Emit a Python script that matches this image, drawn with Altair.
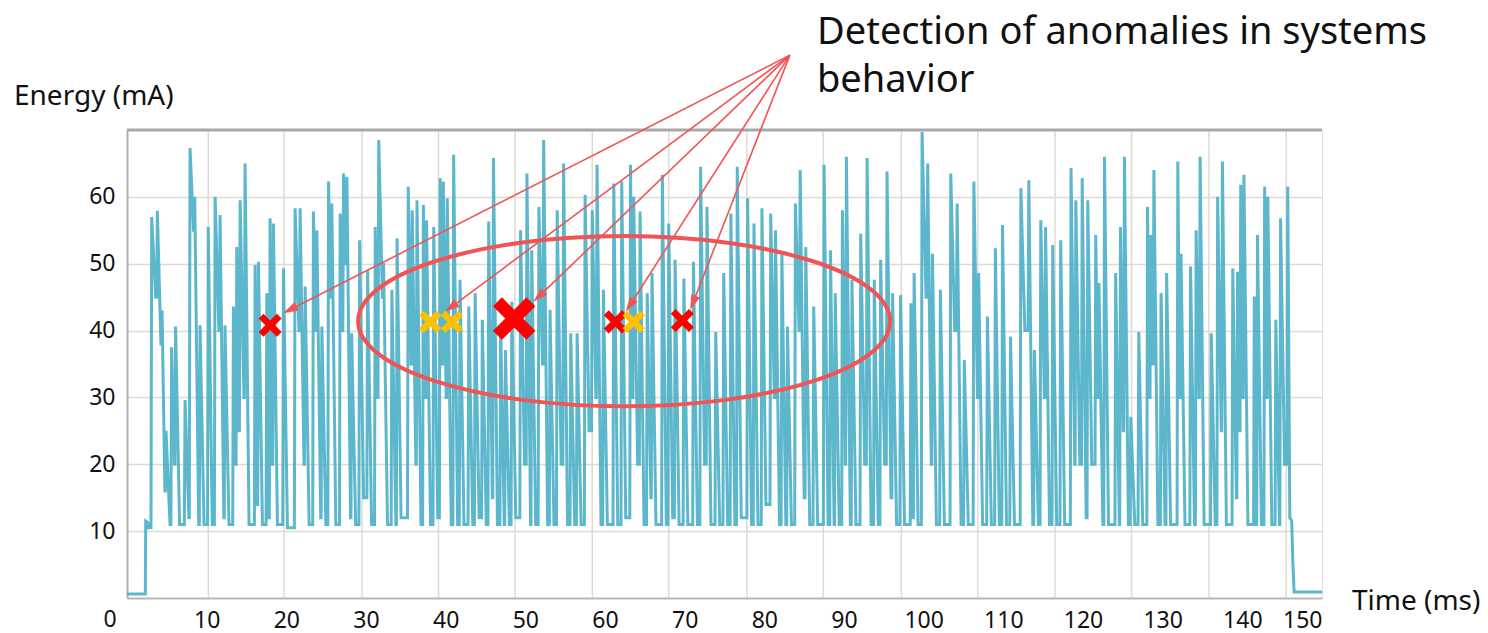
import math
import altair as alt
import pandas as pd

# ---------------- plot geometry ----------------
W, H = 1195, 468
T_MAX, V_MAX = 150, 70

# ---------------- signal data ----------------
lead_t = [0.0, 2.3, 2.35, 2.6, 2.7, 3.0]
lead_v = [0.6, 0.6, 11.5, 11.3, 10.5, 10.5]

spike_t = [3.1, 3.81, 4.4, 4.9, 5.6, 6.1, 7.29, 7.91, 8.5, 9.17, 10.2, 11.06, 11.68, 12.3,
           13.36, 13.78, 14.2, 14.82, 16.08, 16.5, 17.55, 17.96, 18.38, 19.64, 21.1, 21.73,
           22.36, 23.4, 23.83, 24.46, 25.3, 25.71, 26.76, 27.18, 27.6, 28.2, 29.2, 30.2,
           31.16, 31.6, 32.2, 33.25, 33.9, 35.3, 35.8, 36.4, 37.2, 37.6, 38.5, 39.3, 39.7,
           40.2, 41.0, 41.8, 42.9, 43.7, 44.6, 45.4, 46.0, 46.9, 47.5, 48.3, 49.4, 50.2,
           50.8, 51.7, 52.3, 53.1, 54.0, 54.8, 55.7, 56.5, 57.5, 58.4, 59.0, 59.8, 61.1,
           62.1, 63.2, 63.6, 64.4, 65.3, 65.9, 67.2, 68.0, 68.8, 69.9, 71.1, 72.0, 72.8,
           73.9, 74.9, 75.8, 76.6, 77.9, 78.7, 79.7, 80.8, 81.4, 82.2, 82.9, 83.9, 84.5,
           85.2, 86.2, 87.5, 88.3, 88.9, 89.8, 90.3, 91.0, 92.1, 92.9, 93.8, 94.6, 95.4,
           96.1, 97.1, 98.4, 98.8, 99.8, 100.5, 101.1, 102.1, 103.4, 104.2, 105.1, 106.3,
           106.9, 108.0, 109.0, 109.9, 110.9, 112.2, 113.2, 113.9, 114.7, 115.3, 116.2,
           117.2, 118.5, 119.1, 119.9, 120.6, 121.6, 122.0, 122.7, 124.1, 124.7, 125.2,
           126.0, 127.0, 128.1, 128.5, 128.9, 129.8, 130.5, 131.9, 132.3, 133.5, 134.2,
           134.7, 136.1, 136.9, 137.5, 138.8, 139.4, 139.8, 140.2, 141.5, 141.9, 142.8,
           143.2, 144.2, 144.8, 145.7]
spike_peak = [57.0, 57.9, 43.0, 25.0, 37.5, 40.6, 29.6, 67.3, 60.0, 40.8, 55.5, 60.0, 57.3, 40.8,
              43.6, 52.5, 59.5, 65.0, 49.8, 50.3, 45.6, 56.8, 56.0, 49.3, 58.3, 58.3,
              46.6, 57.8, 55.0, 40.6, 62.3, 59.0, 57.5, 63.5, 63.0, 39.6, 53.5, 49.0,
              55.5, 68.5, 50.1, 46.1, 53.8, 61.5, 58.0, 59.5, 58.8, 56.5, 55.5, 62.8, 62.3,
              59.8, 66.3, 47.6, 43.6, 45.6, 41.6, 56.3, 65.8, 40.6, 37.1, 44.3, 55.0, 63.5,
              52.0, 58.5, 68.5, 43.1, 58.0, 65.0, 39.6, 39.6, 60.3, 58.0, 64.8, 46.1, 62.0,
              62.3, 64.8, 60.0, 57.8, 45.6, 48.6, 63.3, 56.0, 50.6, 47.8, 50.3, 64.5, 58.5,
              39.8, 48.6, 57.5, 64.5, 59.8, 56.0, 58.3, 57.5, 55.0, 51.8, 40.6, 59.0, 64.0,
              52.5, 43.6, 64.8, 52.0, 45.6, 58.0, 66.0, 47.6, 54.5, 65.8, 47.6, 50.6, 63.8,
              45.6, 45.3, 44.1, 48.6, 69.7, 65.0, 51.5, 46.1, 63.5, 59.0, 35.6, 62.3,
              48.6, 42.1, 52.3, 55.8, 39.1, 61.3, 62.5, 37.1, 56.5, 55.5, 52.8,
              53.5, 64.3, 59.5, 62.8, 59.5, 54.3, 47.1, 66.0, 48.6, 55.5, 66.0,
              27.1, 39.8, 58.5, 54.3, 64.0, 45.6, 48.6, 65.3, 51.5, 49.6, 55.0,
              66.0, 39.6, 60.0, 65.3, 49.3, 48.8, 61.8, 63.3, 45.1, 54.3, 61.5,
              60.0, 41.6, 56.8, 61.5]
spike_floor = [45, 38, 16, 11, 20, 11, 12, 55, 11, 11, 11, 40, 12, 11,
               20, 25, 30, 11, 14, 11, 12, 20, 11, 10.5, 40, 20,
               11, 40, 12, 11, 45, 11, 40, 50, 12, 11, 15, 11,
               30, 45, 11, 11, 12, 35, 20, 11, 30, 11, 12, 35, 30,
               11, 11, 11, 11, 12, 11, 15, 11, 11, 11, 12, 20, 11,
               11, 35, 11, 11, 20, 11, 11, 11, 25, 30, 11, 11, 11,
               12, 30, 20, 11, 15, 11, 11, 12, 11, 11, 11, 20, 11,
               11, 11, 11, 12, 11, 11, 14, 30, 11, 11, 11, 40, 15,
               11, 11, 11, 11, 11, 20, 11, 11, 20, 11, 11, 20, 15,
               11, 11, 12, 11, 45, 20, 11, 11, 40, 11, 11, 30,
               11, 11, 11, 11, 11, 40, 11, 11, 30, 11, 11,
               11, 20, 20, 12, 20, 30, 11, 11, 11, 25, 11,
               11, 11, 30, 35, 11, 11, 11, 30, 11, 11, 30,
               11, 11, 25, 11, 15, 25, 30, 11, 11, 11, 30,
               11, 11, 20, 12]

tail_t = [146.0, 146.2, 146.35, 146.5, 150.0]
tail_v = [12.0, 11.5, 5.0, 0.9, 0.9]

# gridlines of the underlying screenshot (ms)
grid_t = [10.2, 19.7, 29.5, 39.1, 48.7, 58.4, 68.0, 77.8, 87.4, 97.2, 106.8, 116.5, 126.1, 135.8, 145.5]
x_tick_values = [10, 20, 30, 40, 50, 60, 70, 80, 90, 100, 110, 120, 130, 140, 150]
y_tick_values = [10, 20, 30, 40, 50, 60]

# anomaly markers
cross_t = [17.97, 38.07, 40.8, 48.6, 61.3, 63.6, 69.7]
cross_v = [40.8, 41.3, 41.3, 41.8, 41.3, 41.3, 41.5]
cross_color = ["#ff0000", "#ffc000", "#ffc000", "#ff0000", "#ff0000", "#ffc000", "#ff0000"]
cross_size = [530, 500, 500, 1800, 530, 500, 530]

# ellipse annotation
ell_t, ell_v = [62.4], [41.4]

# arrows
arrow_origin = (83.2, 81.2)
arrow_tip_t = [19.6, 39.9, 51.0, 62.6, 70.7]
arrow_tip_v = [42.6, 42.8, 44.3, 42.8, 43.1]

RED = "#f05454"
LINE = "#4aafc7"

# ---------------- build signal vertices ----------------
ts, vs = list(lead_t), list(lead_v)
prev = lead_v[-1]
nxt = spike_t[1:] + [tail_t[0] + 0.1]
for t, p, f, tn in zip(spike_t, spike_peak, spike_floor, nxt):
    fall = min(0.5, tn - t - 0.14)
    ts += [t - 0.09, t, t + fall]
    vs += [prev, p, f]
    prev = f
ts += tail_t
vs += tail_v
sig = pd.DataFrame({"t": ts, "v": vs})

# ---------------- arrows geometry ----------------
sx, sy = W / T_MAX, H / V_MAX
HEAD = 7.5
rows = []
for tx, tv in zip(arrow_tip_t, arrow_tip_v):
    dx = (tx - arrow_origin[0]) * sx
    dy = -(tv - arrow_origin[1]) * sy
    L = math.hypot(dx, dy)
    ux, uy = dx / L, dy / L
    ht = tx - ux * HEAD / sx
    hv = tv + uy * HEAD / sy
    ang = math.degrees(math.atan2(ux, -uy)) % 360
    rows.append({"t": arrow_origin[0], "v": arrow_origin[1], "ht": ht, "hv": hv, "a": ang})
arrows = pd.DataFrame(rows)

xs = alt.Scale(domain=[0, T_MAX], nice=False, zero=False)
ys = alt.Scale(domain=[0, V_MAX], nice=False, zero=False)

X_AX = alt.Axis(values=x_tick_values, grid=False, ticks=False, domainColor="#b8b8b8",
                domainWidth=2, labelFontSize=23, labelColor="#111", labelPadding=11,
                title=None, labelFont="Noto Sans")
Y_AX = alt.Axis(values=y_tick_values, grid=True, gridColor="#dedbd3", gridWidth=1.5,
                ticks=False, domainColor="#b0b0b0", domainWidth=2, labelFontSize=23,
                labelColor="#111", labelPadding=12, title=None, labelFont="Noto Sans")


def X(f):
    return alt.X(f, scale=xs, axis=X_AX)


def Y(f):
    return alt.Y(f, scale=ys, axis=Y_AX)


ELLIPSE = ("M-1,0C-1,-0.1767,-0.5523,-0.32,0,-0.32C0.5523,-0.32,1,-0.1767,1,0"
           "C1,0.1767,0.5523,0.32,0,0.32C-0.5523,0.32,-1,0.1767,-1,0Z")
d = 0.42
XPATH = (f"M-1,{-1+d}L{-1+d},-1L0,{-d}L{1-d},-1L1,{-1+d}L{d},0L1,{1-d}L{1-d},1"
         f"L0,{d}L{-1+d},1L-1,{1-d}L{-d},0Z")
TRI = "M0,-1L0.62,1L-0.62,1Z"

grid = alt.Chart(pd.DataFrame({"t": grid_t})).mark_rule(color="#dedbd3", strokeWidth=1.5).encode(
    x=X("t:Q"))

line = alt.Chart(sig).mark_line(color=LINE, strokeWidth=3, opacity=0.9).encode(
    x=X("t:Q"), y=Y("v:Q"))

top_border = alt.Chart(pd.DataFrame({"v": [V_MAX]})).mark_rule(color="#a8a8a8", strokeWidth=3).encode(
    y=Y("v:Q"))

ellipse = alt.Chart(pd.DataFrame({"t": ell_t, "v": ell_v})).mark_point(
    shape=ELLIPSE, filled=False, color=RED, strokeWidth=4, size=283024, opacity=1).encode(
    x=X("t:Q"), y=Y("v:Q"))

arrow_lines = alt.Chart(arrows).mark_rule(color=RED, strokeWidth=1.6).encode(
    x=X("t:Q"), y=Y("v:Q"), x2="ht:Q", y2="hv:Q")

arrow_heads = alt.Chart(arrows).mark_point(shape=TRI, filled=True, color=RED, size=225,
                                           opacity=1, strokeWidth=0).encode(
    x=X("ht:Q"), y=Y("hv:Q"), angle=alt.Angle("a:Q", scale=None))

crosses = alt.Chart(pd.DataFrame({"t": cross_t, "v": cross_v, "c": cross_color, "s": cross_size})).mark_point(
    shape=XPATH, filled=True, opacity=1, strokeWidth=0).encode(
    x=X("t:Q"), y=Y("v:Q"),
    color=alt.Color("c:N", scale=None), size=alt.Size("s:Q", scale=None))


def label(txt, px, py, size, align="left"):
    return alt.Chart(pd.DataFrame({"label": [txt]})).mark_text(
        fontSize=size, font="Noto Sans", color="#111", align=align, baseline="middle").encode(
        text="label:N", x=alt.value(px), y=alt.value(py))


texts = [
    label("Energy (mA)", -113, -33, 28),
    label("Time (ms)", 1225, 472, 28),
    label("Detection of anomalies in systems", 690, -97, 38),
    label("behavior", 690, -49, 38),
    label("0", -17, 490, 23, align="center"),
]

chart = alt.layer(grid, line, top_border, ellipse, arrow_lines, arrow_heads, crosses, *texts).properties(
    width=W, height=H,
    autosize=alt.AutoSizeParams(type="none"),
    padding={"left": 119, "top": 122, "right": 158, "bottom": 35},
).configure_view(fill="#fdfbf5", stroke=None).configure(font="Noto Sans", background="white")

chart.save("out.html", embed_options={"renderer": "svg", "actions": False})
